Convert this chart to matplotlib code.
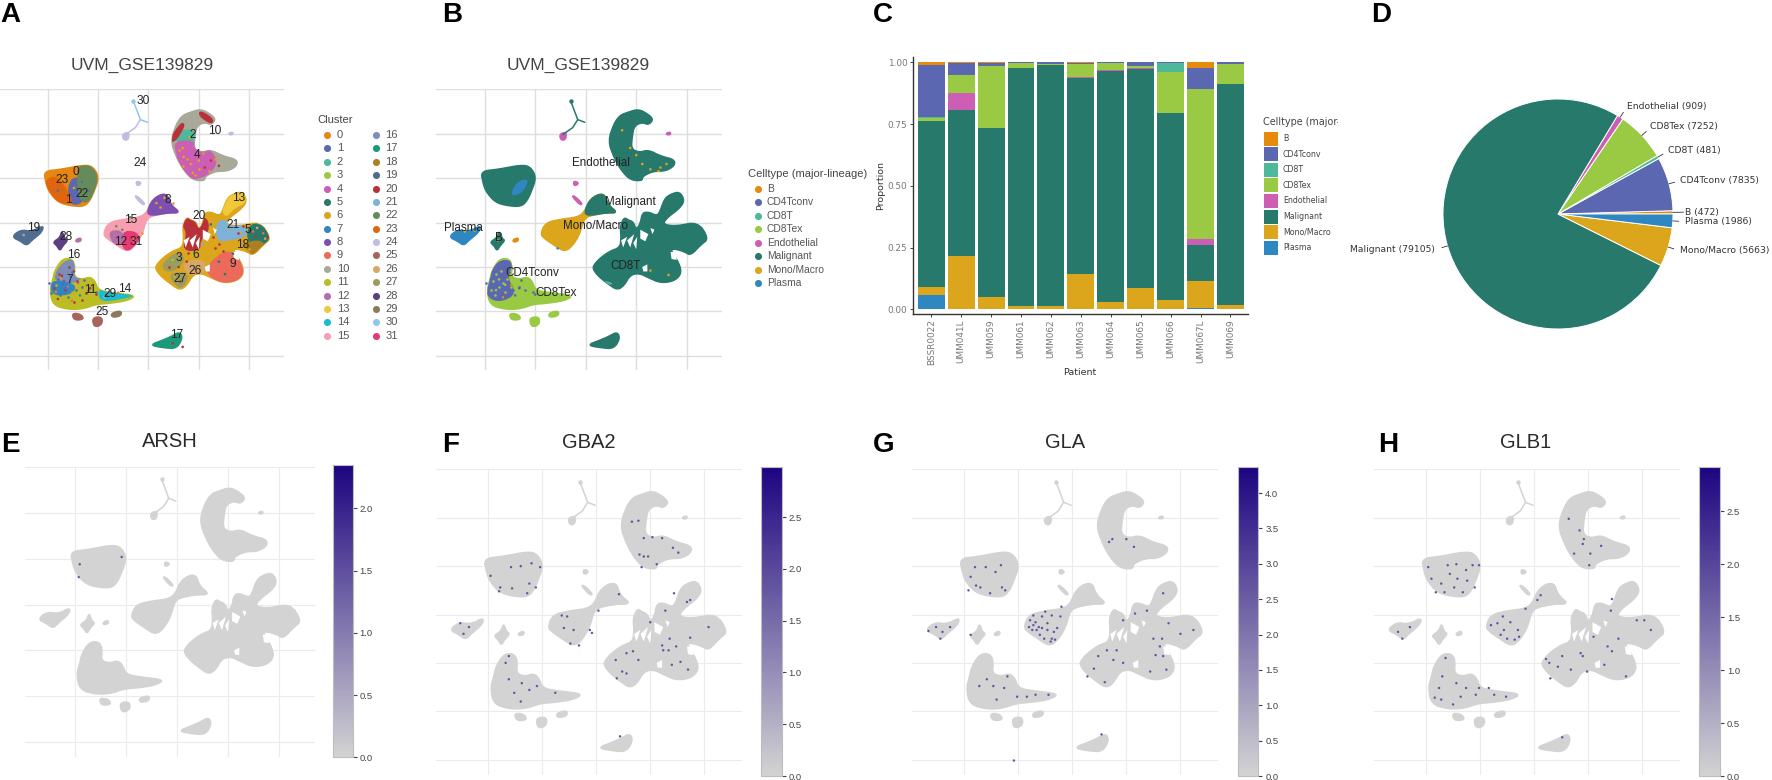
import numpy as np
import matplotlib
matplotlib.use("Agg")
import matplotlib.pyplot as plt
from matplotlib.colors import LinearSegmentedColormap, Normalize
from matplotlib.cm import ScalarMappable
from matplotlib.patches import Polygon, Rectangle
from matplotlib.path import Path
from matplotlib.transforms import Bbox

plt.rcParams['font.family'] = ['Liberation Sans', 'DejaVu Sans']

W, H = 1772, 780

# =========================
# DATA - cell types
# =========================
CELLTYPES = ["B", "CD4Tconv", "CD8T", "CD8Tex", "Endothelial", "Malignant", "Mono/Macro", "Plasma"]
CT_COLORS = ["#E68A0B", "#5B67B0", "#4DB89A", "#9AC943", "#CC5FB3", "#26796B", "#DBA51C", "#2E87C0"]
CT = dict(zip(CELLTYPES, CT_COLORS))

CELL_COUNTS = [472, 7835, 481, 7252, 909, 79105, 5663, 1986]

PATIENTS = ["BSSR0022", "UMM041L", "UMM059", "UMM061", "UMM062", "UMM063",
            "UMM064", "UMM065", "UMM066", "UMM067L", "UMM069"]
# fractions per patient, one list per cell type
PROP_PLASMA = [.058, 0, 0, 0, 0, 0, 0, 0, 0, .006, 0]
PROP_MONO = [.031, .217, .051, .012, .012, .142, .028, .086, .039, .107, .018]
PROP_MALIGNANT = [.675, .589, .682, .966, .977, .795, .936, .886, .755, .148, .893]
PROP_ENDO = [0, .069, .002, 0, 0, .003, .006, .006, 0, .024, 0]
PROP_CD8TEX = [.012, .072, .250, .017, .002, .053, .025, .007, .167, .608, .082]
PROP_CD8T = [.002, 0, 0, 0, 0, 0, 0, 0, .034, 0, 0]
PROP_CD4 = [.211, .048, .010, .005, .009, .005, .005, .014, .005, .085, .007]
PROP_B = [.011, .005, .005, 0, 0, .002, 0, .001, 0, .022, 0]

# =========================
# DATA - cluster colours
# =========================
CLUSTER_COLORS = ["#E68613", "#5B67B0", "#4DB89A", "#9AC943", "#CC5FB3", "#26796B", "#DBA51C", "#2E87C0",
                  "#7D4FB0", "#EC6A5C", "#A8A998", "#BCBD22", "#B46EA8", "#F0C83A", "#17BECF", "#F79FB0",
                  "#7B8DB8", "#1A9A78", "#AD7E22", "#4F6D8F", "#B8313A", "#7FB2D9", "#668B5A", "#E0650F",
                  "#C4BCE0", "#A8635A", "#D8A868", "#9A9D5E", "#5B3F80", "#8C7A5E", "#8EC8EE", "#E63A75"]

# =========================
# DATA - UMAP island outlines
# =========================
ISLAND_TOP = [(4.1, 12.4), (5.2, 12.8), (6.2, 12.2), (6.7, 11.6), (6.2, 11.0), (5.6, 11.3), (4.8, 10.9), (4.6, 9.7),
              (4.5, 8.3), (5.3, 7.9), (6.2, 8.2), (7.4, 7.5), (8.8, 7.1), (8.8, 6.4), (7.9, 5.8), (6.7, 5.8),
              (5.6, 5.2), (5.6, 4.7), (4.4, 4.8), (3.5, 5.9), (2.8, 7.3), (2.2, 9.2), (2.8, 11.2), (3.4, 12.1)]
ISLAND_SQUARE = [(-10.4, 5.8), (-8.7, 6.0), (-6.4, 6.5), (-5.5, 6.3), (-4.9, 5.1), (-5.4, 3.5), (-5.8, 2.5), (-6.4, 1.8),
                 (-7.8, 1.9), (-9.0, 2.3), (-9.9, 3.5), (-10.2, 4.5)]
ISLAND_PLASMA = [(-13.6, -1.6), (-12.7, -0.8), (-11.6, -1.0), (-10.4, -0.3), (-10.6, -1.1), (-11.6, -2.0),
                 (-12.1, -2.6), (-12.7, -2.1)]
ISLAND_B = [(-9.5, -2.2), (-8.8, -1.7), (-8.6, -0.9), (-8.3, -1.8), (-8.0, -2.0), (-8.5, -2.6), (-8.8, -3.2), (-9.1, -2.6)]
ISLAND_B2 = [(-7.2, -1.9), (-6.7, -1.7), (-6.7, -2.1), (-7.2, -2.2)]
ISLAND_MONO = [(-4.5, -1.3), (-4.0, 0.0), (-2.4, 0.4), (-0.9, 0.6), (-0.2, 1.1), (0.5, 2.8), (1.8, 3.4), (2.2, 2.0),
               (3.2, 1.1), (1.9, 1.1), (0.5, 0.8), (-0.2, 0.4), (-0.6, -1.3), (-1.3, -2.6), (-2.1, -3.3), (-3.2, -2.5), (-4.1, -1.8)]
ISLAND_MALSMALL = [(-0.2, 1.0), (0.4, 2.7), (1.8, 3.4), (2.2, 2.0), (3.2, 1.1), (1.9, 1.1), (0.5, 0.8)]
ISLAND_STREAK = [(-1.4, 3.0), (-1.1, 3.0), (-0.3, 2.1), (-0.6, 2.0)]
ISLAND_DOT = [(-1.2, 4.7), (-0.7, 4.5), (-0.9, 4.2), (-1.2, 4.2)]
ISLAND_STALKEND = [(-2.6, 10.0), (-1.9, 10.2), (-2.0, 9.3), (-2.5, 9.3)]
STALK_A = [(-1.5, 13.7), (-0.8, 11.6), (-0.1, 11.3)]
STALK_B = [(-0.8, 11.6), (-1.3, 10.7), (-2.3, 9.9)]
ISLAND_BIG = [(0.7, -4.9), (1.4, -4.0), (2.4, -3.2), (3.4, -2.8), (3.5, -1.6), (3.4, -0.4), (3.8, 0.6), (4.2, 0.3),
              (4.7, 0.1), (5.0, -0.8), (5.4, -0.1), (5.6, 1.1), (6.2, 1.2), (7.0, 0.8), (7.3, 1.1), (7.8, 2.7),
              (8.4, 3.2), (9.3, 3.5), (9.8, 2.5), (9.3, 1.6), (8.1, 0.6), (7.6, -0.2), (9.0, -0.4), (11.1, 0.1),
              (12.2, -1.8), (11.4, -2.5), (10.4, -3.7), (9.8, -3.3), (9.0, -3.0), (8.4, -3.0), (8.8, -3.7), (9.4, -5.0),
              (9.4, -5.9), (8.7, -6.6), (7.4, -6.8), (6.2, -6.2), (5.3, -5.7), (4.4, -5.9), (3.8, -7.1), (3.1, -7.6),
              (2.2, -6.9), (1.3, -6.1), (0.8, -5.4)]
HOLES_BIG = [[(3.5, -2.0), (4.1, -1.6), (3.7, -2.8)],
             [(4.1, -2.0), (4.8, -1.3), (4.4, -2.8)],
             [(4.7, -2.3), (5.1, -1.6), (5.0, -3.0)],
             [(5.4, -0.8), (6.2, -1.3), (5.9, -2.1), (5.4, -1.8)],
             [(6.4, -0.6), (6.8, -0.8), (6.6, -1.3)],
             [(8.4, -3.3), (9.0, -3.3), (9.0, -4.2), (8.5, -4.1)],
             [(5.6, -5.0), (6.1, -4.7), (6.1, -5.5), (5.7, -5.5)]]
ISLAND_TCELL = [(-8.1, -4.0), (-7.5, -4.2), (-7.3, -5.0), (-7.4, -6.1), (-6.6, -6.4), (-5.8, -6.1), (-5.3, -6.6), (-5.0, -7.6),
                (-3.6, -7.9), (-1.2, -8.2), (-2.1, -8.8), (-3.9, -9.1), (-5.2, -9.2), (-6.4, -9.7), (-7.9, -9.8), (-9.5, -9.3),
                (-9.8, -7.6), (-9.5, -6.4), (-9.3, -5.4), (-8.7, -4.3)]
ISLAND_LOW1 = [(-7.6, -10.2), (-6.7, -10.3), (-6.4, -10.9), (-7.4, -11.0)]
ISLAND_LOW2 = [(-5.6, -10.7), (-4.6, -10.6), (-4.6, -11.5), (-5.4, -11.8)]
ISLAND_LOW3 = [(-3.7, -10.2), (-2.7, -9.9), (-2.7, -10.5), (-3.6, -10.7)]
ISLAND_BOTTOM = [(0.1, -13.8), (1.5, -13.2), (2.3, -12.8), (3.1, -12.3), (3.4, -13.0), (2.8, -14.2), (1.5, -14.1)]
ISLAND_SPOT = [(8.0, 10.1), (8.4, 10.2), (8.4, 9.9), (8.0, 9.9)]

ALL_ISLANDS = [ISLAND_TOP, ISLAND_SQUARE, ISLAND_PLASMA, ISLAND_B, ISLAND_B2, ISLAND_MONO, ISLAND_MALSMALL,
               ISLAND_STREAK, ISLAND_DOT, ISLAND_STALKEND, ISLAND_BIG, ISLAND_TCELL, ISLAND_LOW1, ISLAND_LOW2,
               ISLAND_LOW3, ISLAND_BOTTOM, ISLAND_SPOT]

# cluster zones on the islands, panel A
A_BASE = [(ISLAND_TOP, 10), (ISLAND_SQUARE, 0), (ISLAND_PLASMA, 19), (ISLAND_B, 28), (ISLAND_B2, 12), (ISLAND_MONO, 15),
          (ISLAND_MALSMALL, 8), (ISLAND_STREAK, 24), (ISLAND_DOT, 24), (ISLAND_STALKEND, 24), (ISLAND_BIG, 6),
          (ISLAND_TCELL, 11), (ISLAND_LOW1, 25), (ISLAND_LOW2, 25), (ISLAND_LOW3, 29), (ISLAND_BOTTOM, 17), (ISLAND_SPOT, 24)]
ZONE_2 = [(2.5, 10.0), (4.4, 10.6), (4.8, 9.2), (2.8, 9.1)]
ZONE_4 = [(2.6, 9.1), (4.4, 9.2), (6.4, 7.9), (6.8, 6.6), (5.8, 5.3), (4.1, 4.8), (3.1, 6.6), (2.8, 7.8)]
ZONE_20A = [(5.1, 12.6), (6.4, 11.7), (6.3, 11.1), (5.1, 12.0)]
ZONE_20B = [(2.1, 9.3), (3.3, 11.3), (3.6, 10.9), (2.6, 9.1)]
ZONE_1 = [(-7.8, 5.1), (-6.3, 4.8), (-6.5, 2.1), (-8.0, 2.1)]
ZONE_23 = [(-10.3, 4.6), (-9.3, 5.3), (-8.3, 4.0), (-7.6, 2.5), (-8.0, 2.1), (-9.3, 2.5), (-10.1, 3.4)]
ZONE_22 = [(-7.0, 6.3), (-6.0, 6.6), (-5.0, 5.3), (-5.5, 2.9), (-6.5, 2.1), (-7.0, 3.6), (-7.0, 5.1)]
ZONE_31 = [(-2.4, -0.9), (-0.9, -1.2), (-1.2, -2.9), (-2.2, -3.3), (-2.7, -2.2)]
ZONE_12 = [(-4.0, -1.0), (-2.7, -0.9), (-2.4, -2.0), (-3.3, -2.7)]
ZONE_26 = [(3.6, -4.4), (5.6, -4.2), (5.6, -5.6), (4.4, -5.9), (3.6, -5.4)]
ZONE_3 = [(1.4, -4.6), (3.0, -3.2), (3.6, -4.2), (2.6, -5.4), (1.6, -5.4)]
ZONE_27 = [(2.1, -5.7), (4.1, -5.7), (3.3, -7.5), (2.5, -6.7)]
ZONE_9 = [(6.1, -4.6), (7.7, -3.1), (9.1, -3.9), (9.6, -5.4), (9.1, -6.5), (7.7, -6.9), (6.4, -6.3), (5.8, -5.4)]
ZONE_20 = [(3.4, -3.1), (3.9, -1.2), (3.3, -0.1), (3.8, 0.3), (3.9, 1.8), (4.6, 0.3), (5.8, 0.6), (6.0, -0.9), (5.1, -2.0), (5.1, -3.1)]
ZONE_21 = [(6.8, 0.3), (8.4, 0.1), (9.9, -0.7), (9.6, -1.6), (7.7, -2.0), (6.8, -2.0)]
ZONE_13 = [(7.3, 1.6), (7.9, 3.1), (8.4, 4.2), (9.7, 3.6), (9.7, 2.3), (8.4, 1.6), (7.7, 0.6)]
ZONE_5 = [(9.9, -0.5), (11.1, 0.1), (12.2, -1.6), (11.1, -2.7), (9.9, -2.2)]
ZONE_18 = [(9.4, -2.4), (10.9, -2.0), (11.6, -2.5), (10.6, -3.8), (9.9, -3.1)]
ZONE_16 = [(-8.5, -4.6), (-7.8, -4.2), (-7.3, -4.2), (-7.2, -5.5), (-6.5, -6.3), (-8.0, -6.9), (-9.3, -6.5), (-9.1, -5.5)]
ZONE_7 = [(-9.8, -7.2), (-9.3, -6.5), (-7.2, -7.0), (-7.6, -8.0), (-9.3, -8.2)]
ZONE_14 = [(-5.0, -7.6), (-3.3, -7.2), (-1.2, -8.1), (-2.5, -8.5), (-4.7, -8.9)]
A_ZONES = [(ZONE_2, 2), (ZONE_4, 4), (ZONE_20A, 20), (ZONE_20B, 20), (ZONE_1, 1), (ZONE_23, 23), (ZONE_22, 22),
           (ZONE_31, 31), (ZONE_12, 12), (ZONE_26, 26), (ZONE_3, 27), (ZONE_27, 27), (ZONE_9, 9), (ZONE_20, 20), (ZONE_21, 21),
           (ZONE_13, 13), (ZONE_5, 5), (ZONE_18, 18), (ZONE_16, 16), (ZONE_7, 7), (ZONE_14, 14)]

A_SPECK_X = [3.5, 4.2, 5.0, 5.6, 4.4, 6.2, 3.4, 7.0, -9.0, -7.4, -6.6, -8.2, -6.0, -2.6, -1.8, -3.2, 0.8, 1.6,
             2.4, 3.0, 3.8, 4.4, 5.2, 2.6, 7.0, 7.6, 8.4, 5.4, 6.2, 10.4, 11.4, 10.8, 11.6, -8.6, -8.0, -9.2, -7.4,
             -8.4, -7.0, -6.8, -5.8, -8.8, -9.0, -7.6, -4.4, -3.0, 3.4, 2.4, -12.4]
A_SPECK_Y = [7.4, 6.6, 7.0, 6.2, 5.6, 7.0, 8.4, 6.4, 3.6, 3.9, 4.6, 5.4, 3.6, -0.8, 0.6, -0.4, 2.2, 2.8,
             -4.2, -5.0, -4.4, -3.6, -5.2, -6.1, -4.4, -5.8, -3.5, -2.4, -0.2, -1.0, -1.2, -0.6, -1.8, -6.0, -7.2, -7.8, -5.5,
             -6.6, -6.8, -8.2, -7.4, -5.2, -8.6, -8.8, -8.4, -7.9, -14.0, -13.6, -1.4]
A_SPECK_C = [6, 6, 6, 20, 6, 20, 6, 20, 1, 6, 1, 23, 1, 22, 22, 22, 6, 6,
             3, 20, 20, 3, 6, 6, 5, 5, 5, 21, 5, 9, 9, 26, 26, 20, 4, 0, 20,
             8, 12, 7, 20, 12, 20, 9, 21, 9, 20, 20, 10]
RED_SPECK_X = [-8.9, -7.9, -7.1, -8.3, -6.2, -9.4, -7.4, 2.0, 3.1, 3.9, 6.6, 7.4, 8.9, 9.4, 10.6, 11.8, 6.4, 7.0, -6.6, -4.2, -5.2]
RED_SPECK_Y = [-5.8, -5.0, -6.6, -7.6, -7.9, -7.4, -8.9, -5.0, -6.6, -3.4, -2.9, -3.2, -1.2, -0.4, -1.5, -1.6, -1.6, -2.4, -8.7, -8.2, -8.0]
GOLD_SPECK_X = [3.0, 3.8, 4.6, 5.4, 6.0, 4.0, 5.0, 3.4, 6.6, -8.8, -7.6, -6.2, -9.2, -5.4, -1.4, -0.6, 1.1, 2.4, 9.2, 8.0, 10.0]
GOLD_SPECK_Y = [8.2, 7.2, 5.4, 7.8, 5.8, 9.6, 6.0, 6.4, 7.2, -6.2, -7.8, -7.0, -7.0, -6.8, -1.8, -1.2, 1.8, 2.2, -1.2, -0.6, -3.0]
BLUE_SPECK_X = [-9.5, -9.0, -8.4, -7.8, -7.2, -9.7, -8.8, -8.0, -6.6, -9.9, -5.2, -6.0, -8.6, -6.4, -7.6]
BLUE_SPECK_Y = [-7.0, -6.4, -7.4, -6.0, -7.6, -7.9, -8.1, -8.4, -7.2, -6.8, -7.8, -7.6, -6.9, -6.5, -5.6]

A_LABELS = ["30", "10", "2", "4", "24", "0", "23", "22", "1", "8", "13", "20", "15", "21", "5", "19", "28", "12", "31",
            "18", "16", "6", "3", "9", "26", "27", "7", "11", "14", "29", "25", "17"]
A_LABEL_X = [-0.5, 6.6, 4.4, 4.8, -0.8, -7.2, -8.6, -6.6, -8.0, 1.9, 9.0, 5.0, -1.8, 8.4, 9.9, -11.4, -8.2, -2.8, -1.2,
             9.4, -7.4, 4.7, 3.0, 8.4, 4.6, 3.1, -7.8, -5.8, -2.4, -3.8, -4.6, 2.8]
A_LABEL_Y = [13.7, 10.3, 9.9, 7.6, 6.7, 5.7, 4.8, 3.2, 2.6, 2.5, 2.8, 0.8, 0.3, -0.3, -0.8, -0.6, -1.6, -2.2, -2.2,
             -2.5, -3.6, -3.6, -4.0, -4.7, -5.4, -6.3, -6.5, -7.6, -7.5, -8.0, -10.1, -12.7]

# cell type zones, panel B
B_BASE = [(ISLAND_TOP, "Malignant"), (ISLAND_SQUARE, "Malignant"), (ISLAND_PLASMA, "Plasma"), (ISLAND_B, "Malignant"),
          (ISLAND_B2, "B"), (ISLAND_MONO, "Mono/Macro"), (ISLAND_MALSMALL, "Malignant"), (ISLAND_STREAK, "Endothelial"),
          (ISLAND_DOT, "Endothelial"), (ISLAND_STALKEND, "Endothelial"), (ISLAND_BIG, "Malignant"),
          (ISLAND_TCELL, "CD8Tex"), (ISLAND_LOW1, "CD8Tex"), (ISLAND_LOW2, "CD8Tex"), (ISLAND_LOW3, "CD8Tex"),
          (ISLAND_BOTTOM, "Malignant"), (ISLAND_SPOT, "Endothelial")]
ZONE_CD4 = [(-8.8, -4.6), (-8.0, -4.2), (-7.2, -4.6), (-7.9, -6.1), (-6.9, -8.0), (-8.5, -8.9), (-9.7, -8.4), (-9.9, -7.0), (-9.5, -5.7)]
ZONE_CD8T = [(1.1, -6.5), (2.1, -6.7), (2.7, -6.9), (1.8, -6.9)]
ZONE_PLASMA = [(-7.4, 3.3), (-6.7, 4.6), (-5.7, 4.9), (-6.2, 3.6), (-7.0, 3.1)]
B_ZONES = [(ZONE_CD4, "CD4Tconv"), (ZONE_CD8T, "CD8T"), (ZONE_PLASMA, "Plasma")]
B_LABELS = ["Endothelial", "Malignant", "Mono/Macro", "Plasma", "B", "CD4Tconv", "CD8Tex", "CD8T"]
B_LABEL_X = [1.5, 4.4, 1.0, -12.1, -8.6, -5.3, -2.9, 3.9]
B_LABEL_Y = [6.7, 2.3, -0.4, -0.6, -1.7, -5.7, -7.9, -4.9]
B_SPECK_X = [3.6, 4.4, 5.6, 6.4, 7.4, 8.0, 5.0, 7.2, -8.6, -8.0, -7.6, -8.9, -7.0, -8.2, -6.6, -5.0, -8.7, -8.4, -7.4, 6.4, 8.2, -12.0, -11.0, -2.8]
B_SPECK_Y = [10.4, 8.4, 6.6, 6.0, 6.2, 6.6, 7.6, 5.8, -6.4, -7.0, -6.0, -7.6, -8.2, -8.4, -7.4, -8.1, -2.0, -1.6, -7.0, -5.4, -5.9, -1.0, -0.9, -2.9]
B_SPECK_C = ["Mono/Macro"] * 8 + ["CD8Tex", "CD8Tex", "B", "CD8Tex", "CD4Tconv", "B", "CD4Tconv", "CD4Tconv",
                                  "Mono/Macro", "Plasma", "B", "Mono/Macro", "Mono/Macro", "Mono/Macro", "Mono/Macro", "Plasma"]
TEX_SPECK_X = [-9.2, -8.6, -8.9, -8.2, -9.4, -7.8, -8.4, -9.0, -8.0, -7.4]
TEX_SPECK_Y = [-6.6, -7.2, -5.8, -6.8, -7.6, -6.4, -5.4, -8.2, -7.8, -7.2]

# =========================
# DATA - gene panels
# =========================
ARSH_MAX = 2.348
GBA2_MAX = 2.986
GLA_MAX = 4.372
GLB1_MAX = 2.918

ARSH_X = [-5.4, -9.5, -9.6]
ARSH_Y = [5.2, 4.4, 3.0]
GBA2_X = [4.4, 5.2, 6.1, 4.0, 4.4, 4.8, 4.2, 5.6, 7.1, 7.6, 3.3, 3.9, -7.9, -7.0, -6.0, -5.2, -9.8, -8.9, -7.8, -6.2, -5.6, -6.4, -9.0,
          -12.6, -11.8, -12.3, -3.2, -2.7, -3.0, -2.1, -0.6, -0.4, -2.4, -1.6, 0.2, 2.1, 7.2, 8.7, 8.4, 6.4, 5.0, 10.4, 8.7, 6.8, 6.2,
          6.1, 6.7, 7.4, 7.8, 7.0, 8.5, 2.8, 3.4, 1.8, 2.4, 2.8, 3.9, 1.9, -8.4, -8.1, -8.1, -6.9, -7.6, -7.0, -5.5, -3.8, -6.2, 2.2]
GBA2_Y = [7.9, 8.0, 7.9, 6.2, 6.0, 6.0, 4.9, 5.2, 6.9, 6.4, 9.6, 9.7, 4.9, 5.0, 5.3, 4.9, 4.0, 2.8, 2.7, 3.2, 2.8, 2.2, 2.4,
          -0.9, -1.3, -2.0, -0.1, -0.2, -1.4, -1.6, -1.6, -1.9, -3.0, -3.2, 0.4, 2.1, 2.2, 1.5, 1.3, 0.4, -0.8, -1.3, -2.4, -2.5, -3.7,
          -3.2, -3.7, -3.3, -4.9, -5.2, -5.7, -4.0, -3.8, -4.7, -5.9, -6.1, -4.7, -6.6, -5.0, -4.3, -6.7, -7.1, -8.1, -9.0, -7.4, -8.1, -7.8, -12.6]
GLA_X = [-3.4, -3.1, -3.6, -3.9, -2.8, -2.3, -1.9, -1.6, -2.0, -3.0, -2.6, -1.4, -1.1, -1.9, -3.3, -4.0, -2.3, -1.7, -3.6, -2.5, -1.0, -2.8, -3.7,
         -13.3, -12.6, -12.0, -11.3, -12.2, -8.0, -8.9, -8.5, -6.5, -6.2, -9.6, -7.6, -7.1, -9.0, -6.6, -9.4,
         3.7, 5.0, 3.4, 5.7, 5.8, 6.9, 4.7, 10.0, 8.3, 7.5, 8.1, 7.7, 8.4, 8.7, 7.2, 2.4, 3.2, 3.8, 2.0, 3.0, 4.7, 1.4, 4.1, 11.2, 8.9, 8.4,
         -8.6, -7.3, -6.3, -7.9, -5.1, -7.0, -2.2, -3.4, -6.0, -4.2, -5.4, -9.4, 2.7]
GLA_Y = [-0.8, -1.3, -1.1, -0.6, -0.2, -0.9, -2.5, -2.6, -2.8, -2.1, -2.5, -1.4, -0.2, -0.1, -1.6, -1.3, -1.6, -1.8, -0.1, 0.3, 0.8, -1.4, -1.6,
         -1.7, -1.3, -1.8, -1.3, -2.5, 4.9, 3.0, 2.8, 2.8, 2.5, 2.5, 2.2, 4.4, 4.9, 5.1, 3.9,
         7.8, 7.8, 7.5, 7.0, 0.1, 0.4, -0.6, -2.0, -2.5, -2.5, -3.3, -4.2, -4.3, -5.7, -5.9, -4.3, -3.7, -4.7, -5.6, -7.0, -5.0, -6.4, -3.7, -1.6, -0.9, 2.2,
         -7.4, -7.4, -7.6, -6.7, -8.5, -8.8, -8.3, -8.3, -6.4, -8.5, -15.1, -2.1, -12.4]
GLB1_X = [-8.0, -7.2, -5.7, -5.1, -9.8, -7.8, -7.1, -6.3, -9.5, -8.6, -8.3, -6.6, -5.5, -7.4, -9.1, -6.2,
          4.2, 4.5, 4.6, 5.2, 5.1, 3.7, 6.2, 3.2, 0.6, 0.3, -0.8,
          -4.0, -2.9, -2.8, -3.1, -2.2, -1.5, -2.5, -1.4, -1.8, -3.4, -12.6, -11.5, -12.2,
          7.2, 7.1, 7.8, 10.8, 10.2, 6.8, 7.2, 6.5, 8.5, 1.1, 1.4, 4.3, 4.5, 2.6, 3.4, 4.9, 2.2, 1.5, 5.5, 9.5,
          -8.2, -8.5, -8.8, -7.2, -9.2, -7.5, -6.3, -5.4, -3.7, -2.6, -4.2, -6.8, -5.1, -8.6, 2.6]
GLB1_Y = [5.1, 5.2, 5.1, 5.1, 4.9, 4.2, 3.7, 4.6, 3.7, 3.2, 2.3, 2.3, 2.8, 2.8, 2.3, 3.5,
          8.7, 7.3, 7.8, 6.3, 5.1, 6.3, 7.1, 9.9, 2.0, 1.5, 0.6,
          -1.1, -0.2, -1.6, -2.1, -0.8, -1.6, -2.5, -2.3, -2.6, -0.9, -1.8, -1.3, -2.5,
          1.6, 0.4, -2.5, -1.6, -0.6, -3.3, -3.8, -5.2, -6.4, -4.6, -5.0, -4.0, -4.3, -4.3, -5.7, -5.9, -5.4, -6.6, -2.3, -0.6,
          -4.5, -6.4, -7.6, -7.1, -8.6, -9.3, -7.6, -8.3, -8.3, -8.5, -7.6, -8.5, -7.6, -8.8, -12.7]

expr_cmap = LinearSegmentedColormap.from_list("expr", ["#D3D3D3", "#1D0480"])

# =========================
# HELPERS
# =========================
fig = plt.figure(figsize=(W / 100, H / 100), dpi=100)


def px_axes(left, top, right, bottom):
    return fig.add_axes([left / W, 1 - bottom / H, (right - left) / W, (bottom - top) / H])


def umap_axes(left, top, right, bottom, grid_color="#EBEBEB", grid_lw=0.8):
    ax = px_axes(left, top, right, bottom)
    ax.set_xlim(-14.85, 13.5)
    ax.set_ylim(-16.6, 15.05)
    ax.set_xticks([-10, -5, 0, 5, 10])
    ax.set_yticks([-15, -10, -5, 0, 5, 10, 15])
    ax.tick_params(length=0, labelbottom=False, labelleft=False)
    ax.grid(True, color=grid_color, lw=grid_lw)
    ax.set_axisbelow(True)
    for s in ax.spines.values():
        s.set_visible(False)
    ax.patch.set_alpha(0)
    return ax


# round the traced corners off (Chaikin corner cutting)
def smooth(pts, rounds=2):
    p = np.array(pts, dtype=float)
    for _ in range(rounds):
        q = np.roll(p, -1, axis=0)
        p = np.column_stack([0.75 * p + 0.25 * q, 0.25 * p + 0.75 * q]).reshape(-1, 2)
    return p


ISLAND_CLIP = Path.make_compound_path(*[Path(np.vstack([smooth(i), smooth(i)[:1]]), closed=True) for i in ALL_ISLANDS])


def fill_shape(ax, pts, color, zorder=2, clip=False):
    patch = Polygon(smooth(pts), closed=True, fc=color, ec=color, lw=1.1, zorder=zorder, joinstyle="round")
    ax.add_patch(patch)
    if clip:
        patch.set_clip_path(ISLAND_CLIP, ax.transData)


def draw_stalk(ax, color, color_low=None):
    for line, c in ((STALK_A, color), (STALK_B, color_low or color)):
        xs, ys = zip(*line)
        ax.plot(xs, ys, color=c, lw=1.1, zorder=2, solid_capstyle="round")
    ax.scatter([STALK_A[0][0]], [STALK_A[0][1]], s=10, color=color, zorder=2, lw=0)


def draw_holes(ax):
    for hole in HOLES_BIG:
        ax.add_patch(Polygon(hole, closed=True, fc="white", ec="none", zorder=3.5))


def gene_panel(left, top, right, bottom, cb_left, cb_right, cb_top, cb_bottom, vmax, ticks, xs, ys):
    ax = umap_axes(left, top, right, bottom)
    for isl in ALL_ISLANDS:
        fill_shape(ax, isl, "#D3D3D3")
    draw_stalk(ax, "#D3D3D3")
    draw_holes(ax)
    ax.scatter(xs, ys, s=3.0, c=[vmax * 0.62] * len(xs), cmap=expr_cmap, vmin=0, vmax=vmax, lw=0, zorder=4)

    cax = px_axes(cb_left, cb_top, cb_right, cb_bottom)
    sm = ScalarMappable(norm=Normalize(0, vmax), cmap=expr_cmap)
    cb = fig.colorbar(sm, cax=cax, ticks=ticks)
    cb.ax.set_yticklabels([f"{t:.1f}" for t in ticks])
    cb.ax.tick_params(length=3, width=0.8, labelsize=6.8, colors="#444444", pad=2)
    cb.outline.set_edgecolor("#BDBDBD")
    cb.outline.set_linewidth(0.8)
    return ax


# =========================
# PANEL A
# =========================
ax_a = umap_axes(-1, 89, 284.3, 370, grid_color="#DEDEDE", grid_lw=1.0)
for pts, c in A_BASE:
    fill_shape(ax_a, pts, CLUSTER_COLORS[c])
draw_stalk(ax_a, CLUSTER_COLORS[30], CLUSTER_COLORS[24])
for pts, c in A_ZONES:
    fill_shape(ax_a, pts, CLUSTER_COLORS[c], zorder=3, clip=True)
draw_holes(ax_a)
ax_a.scatter(A_SPECK_X, A_SPECK_Y, s=3.5, c=[CLUSTER_COLORS[c] for c in A_SPECK_C], lw=0, zorder=4)
ax_a.scatter(RED_SPECK_X, RED_SPECK_Y, s=3.5, color=CLUSTER_COLORS[20], lw=0, zorder=4)
ax_a.scatter(GOLD_SPECK_X, GOLD_SPECK_Y, s=3.5, color=CLUSTER_COLORS[6], lw=0, zorder=4)
ax_a.scatter(BLUE_SPECK_X, BLUE_SPECK_Y, s=3.5, color=CLUSTER_COLORS[1], lw=0, zorder=4)
for t, x, y in zip(A_LABELS, A_LABEL_X, A_LABEL_Y):
    ax_a.text(x, y, t, fontsize=8.6, color="#222222", ha="center", va="center", zorder=5)

# =========================
# PANEL B
# =========================
ax_b = umap_axes(436, 89, 722, 370, grid_color="#DEDEDE", grid_lw=1.0)
for pts, c in B_BASE:
    fill_shape(ax_b, pts, CT[c])
draw_stalk(ax_b, CT["Malignant"])
for pts, c in B_ZONES:
    fill_shape(ax_b, pts, CT[c], zorder=3, clip=True)
draw_holes(ax_b)
ax_b.scatter(B_SPECK_X, B_SPECK_Y, s=3.5, c=[CT[c] for c in B_SPECK_C], lw=0, zorder=4)
ax_b.scatter(BLUE_SPECK_X, BLUE_SPECK_Y, s=3.5, color=CT["CD4Tconv"], lw=0, zorder=4)
ax_b.scatter(TEX_SPECK_X, TEX_SPECK_Y, s=3.5, color=CT["CD8Tex"], lw=0, zorder=4)
for t, x, y in zip(B_LABELS, B_LABEL_X, B_LABEL_Y):
    ax_b.text(x, y, t, fontsize=8.4, color="#222222", ha="center", va="center", zorder=5)

# =========================
# PANEL C
# =========================
ax_c = px_axes(913, 57.3, 1247.5, 314)
stack = [("Plasma", PROP_PLASMA), ("Mono/Macro", PROP_MONO), ("Malignant", PROP_MALIGNANT), ("Endothelial", PROP_ENDO),
         ("CD8Tex", PROP_CD8TEX), ("CD8T", PROP_CD8T), ("CD4Tconv", PROP_CD4), ("B", PROP_B)]
bottom = np.zeros(len(PATIENTS))
xpos = np.arange(len(PATIENTS))
for name, vals in stack:
    ax_c.bar(xpos, vals, 0.9, bottom=bottom, color=CT[name], lw=0)
    bottom += np.array(vals)
ax_c.set_xlim(-0.61, 10.57)
ax_c.set_ylim(-0.019, 1.02)
ax_c.set_xticks(xpos)
ax_c.set_xticklabels(PATIENTS, rotation=90, family="DejaVu Sans", fontsize=6.4, color="#777777")
ax_c.set_yticks([0, 0.25, 0.5, 0.75, 1])
ax_c.set_yticklabels(["0.00", "0.25", "0.50", "0.75", "1.00"], family="DejaVu Sans", fontsize=6.4, color="#777777")
ax_c.tick_params(length=2.5, width=0.7, color="#444444", pad=1.5)
ax_c.spines[["top", "right"]].set_visible(False)
ax_c.spines[["left", "bottom"]].set_color("#333333")
ax_c.spines[["left", "bottom"]].set_linewidth(1.0)
ax_c.set_xlabel("Patient", family="DejaVu Sans", fontsize=6.8, color="#333333", labelpad=2)
ax_c.set_ylabel("Proportion", family="DejaVu Sans", fontsize=6.8, color="#333333", labelpad=2)

# =========================
# PANEL D
# =========================
ax_d = px_axes(1558 - 115, 214 - 115, 1558 + 115, 214 + 115)
wedges, _ = ax_d.pie(CELL_COUNTS, colors=CT_COLORS, startangle=0, counterclock=True, radius=1,
                     wedgeprops=dict(edgecolor="white", linewidth=0.7))
ax_d.set_xlim(-1, 1)
ax_d.set_ylim(-1, 1)
for wedge, name in zip(wedges, CELLTYPES):
    theta = np.deg2rad((wedge.theta1 + wedge.theta2) / 2)
    outer = 1.09 if name == "B" else 1.05
    ax_d.plot([np.cos(theta), outer * np.cos(theta)], [np.sin(theta), outer * np.sin(theta)],
              color="#333333", lw=0.6, clip_on=False)

# =========================
# GENE PANELS E-H
# =========================
gene_panel(25, 466.7, 315, 756.7, 333, 352.7, 465, 757.3, ARSH_MAX, [0, 0.5, 1, 1.5, 2], ARSH_X, ARSH_Y)
gene_panel(436, 469, 742, 775, 761, 781.7, 466.7, 776, GBA2_MAX, [0, 0.5, 1, 1.5, 2, 2.5], GBA2_X, GBA2_Y)
gene_panel(911.7, 469, 1218.3, 775, 1237.7, 1258.3, 466.7, 776, GLA_MAX, [0, 0.5, 1, 1.5, 2, 2.5, 3, 3.5, 4], GLA_X, GLA_Y)
gene_panel(1373.7, 469, 1680, 775, 1699.3, 1720, 466.7, 776, GLB1_MAX, [0, 0.5, 1, 1.5, 2, 2.5], GLB1_X, GLB1_Y)

# =========================
# OVERLAY: titles, letters, legends
# =========================
ov = fig.add_axes([0, 0, 1, 1])
ov.set_xlim(0, W)
ov.set_ylim(H, 0)
ov.axis("off")
ov.patch.set_alpha(0)

LETTERS = [("A", 0, 15), ("B", 441.7, 15), ("C", 872.7, 15), ("D", 1371.6, 15),
           ("E", 1, 445), ("F", 442, 445), ("G", 872.7, 445), ("H", 1377.7, 445)]
for t, x, y in LETTERS:
    ov.text(x, y, t, fontsize=20, fontweight="bold", color="black", ha="left", va="center")

TITLES = [("UVM_GSE139829", 141.7, 65, 12.5, "#444444"), ("UVM_GSE139829", 578, 65, 12.5, "#444444"),
          ("ARSH", 170, 441.7, 14.5, "#2A2A2A"), ("GBA2", 589, 442.7, 14.5, "#2A2A2A"),
          ("GLA", 1065, 442.7, 14.5, "#2A2A2A"), ("GLB1", 1525.7, 442.7, 14.5, "#2A2A2A")]
for t, x, y, fs, c in TITLES:
    ov.text(x, y, t, fontsize=fs, color=c, ha="center", va="center")

# cluster legend
ov.text(317.7, 120, "Cluster", fontsize=8, color="#444444", ha="left", va="center")
for i, color in enumerate(CLUSTER_COLORS):
    col = i // 16
    row = i % 16
    px = 327 + col * 48.7
    py = 135 + row * 13.38
    ov.scatter([px], [py], s=26, color=color, lw=0)
    ov.text(px + 9.7, py, str(i), fontsize=8, color="#555555", ha="left", va="center")

# celltype legend, panel B
ov.text(748.3, 174, "Celltype (major-lineage)", fontsize=8, color="#444444", ha="left", va="center")
for i, (name, color) in enumerate(zip(CELLTYPES, CT_COLORS)):
    py = 188.7 + i * 13.5
    ov.scatter([757.7], [py], s=26, color=color, lw=0)
    ov.text(766.7, py, name, fontsize=7.4, color="#555555", ha="left", va="center")

# celltype legend, panel C (cut off in the original)
legend_title = ov.text(1263, 122, "Celltype (major-lineage)", family="DejaVu Sans", fontsize=6.9, color="#444444",
                       ha="left", va="center")
legend_title.set_clip_on(True)
legend_title.set_clip_box(Bbox([[1255, 0], [1338, H]]))
for i, (name, color) in enumerate(zip(CELLTYPES, CT_COLORS)):
    py = 131.7 + i * 15.57
    ov.add_patch(Rectangle((1264, py), 14, 14, fc=color, ec="none"))
    ov.text(1283, py + 7, name, family="DejaVu Sans", fontsize=5.7, color="#444444", ha="left", va="center")

# pie labels
PIE_LABELS = [("Endothelial (909)", 1627, 107), ("CD8Tex (7252)", 1650, 127), ("CD8T (481)", 1668, 151),
              ("CD4Tconv (7835)", 1680, 180), ("B (472)", 1685.5, 212), ("Plasma (1986)", 1685, 221.7),
              ("Mono/Macro (5663)", 1680, 250.7)]
for t, x, y in PIE_LABELS:
    ov.text(x, y, t, family="DejaVu Sans", fontsize=6.7, color="#333333", ha="left", va="center")
ov.text(1434.7, 249, "Malignant (79105)", family="DejaVu Sans", fontsize=6.7, color="#333333", ha="right", va="center")

fig.savefig("out.png", dpi=100)
